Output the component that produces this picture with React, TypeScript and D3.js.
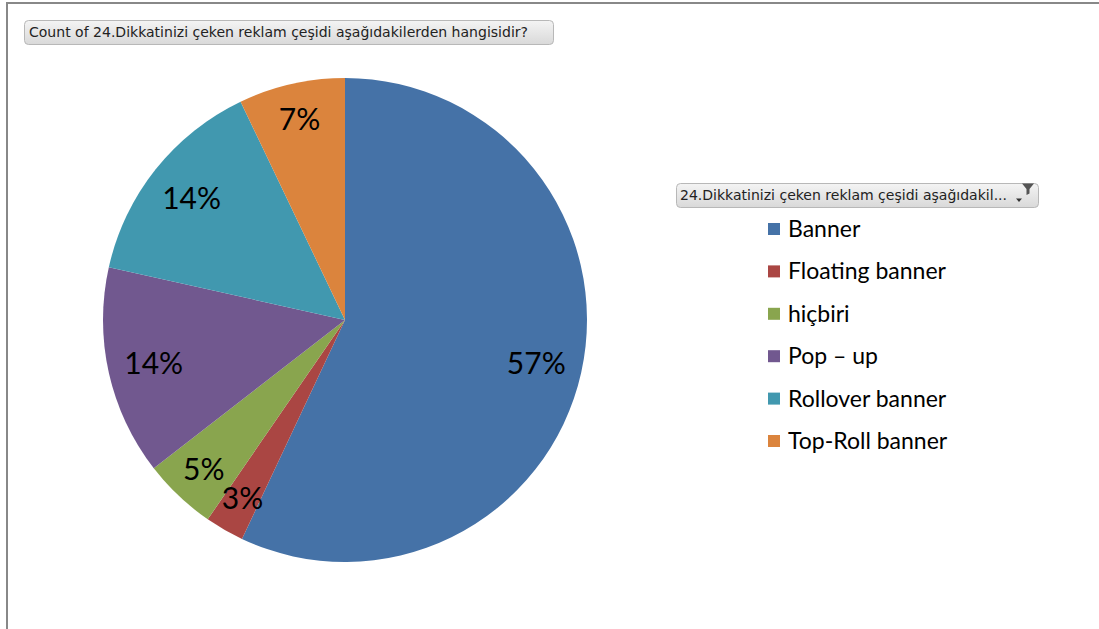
import React from "react";
import * as d3 from "d3";

const categories = ["Banner", "Floating banner", "hiçbiri", "Pop – up", "Rollover banner", "Top-Roll banner"];
const shares = [57.0, 2.6, 4.9, 14.0, 14.4, 7.1];
const colors = ["#4572A7", "#AA4643", "#89A54E", "#71588F", "#4198AF", "#DB843D"];
const titleText = "Count of 24.Dikkatinizi çeken reklam çeşidi aşağıdakilerden hangisidir?";
const legendTitle = "24.Dikkatinizi çeken reklam çeşidi aşağıdakil...";

export default function App() {
  const W = 1099, H = 629;
  const cx = 345, cy = 320, R = 242;
  const total = d3.sum(shares);
  const pie = d3.pie<number>().sort(null).value((d) => d);
  const arcs = pie(shares);
  const arc = d3.arc<d3.PieArcDatum<number>>().innerRadius(0).outerRadius(R);
  const fmt = (v: number) => Math.round((v / total) * 100) + "%";
  const legendY = d3.scalePoint<string>().domain(categories).range([229, 441]);
  const font = "Lato, 'Open Sans', sans-serif";
  const btnFont = "'DejaVu Sans Condensed', 'Liberation Sans', sans-serif";

  return (
    <svg width={W} height={H} style={{ position: "absolute", left: 0, top: 0, background: "#fff" }}>
      <defs>
        <linearGradient id="btn" x1="0" y1="0" x2="0" y2="1">
          <stop offset="0" stopColor="#f4f4f4" />
          <stop offset="1" stopColor="#d9d9d9" />
        </linearGradient>
      </defs>
      <rect x={0} y={0} width={W} height={H} fill="#fff" />
      <line x1={6} y1={3} x2={W} y2={3} stroke="#888" strokeWidth={2} />
      <line x1={7} y1={3} x2={7} y2={H} stroke="#888" strokeWidth={2} />

      {/* title button */}
      <rect x={24.5} y={20.5} width={529} height={24} rx={4} fill="url(#btn)" stroke="#b8b8b8" />
      <text x={29} y={37} fontFamily={btnFont} fontSize={14} fill="#222" textLength={499} lengthAdjust="spacingAndGlyphs">
        {titleText}
      </text>

      <g transform={`translate(${cx},${cy})`}>
        {arcs.map((a, i) => (
          <path key={i} d={arc(a) || ""} fill={colors[i]} />
        ))}
        {arcs.map((a, i) => {
          const k = a.data < 10 ? 0.85 : 0.81;
          const la = d3.arc<d3.PieArcDatum<number>>().innerRadius(R * k).outerRadius(R * k);
          const [x, y] = la.centroid(a);
          return (
            <text key={"l" + i} x={x} y={y} dy="0.36em" textAnchor="middle" fontFamily={font} fontSize={30} fill="#000">
              {fmt(a.data)}
            </text>
          );
        })}
      </g>

      {/* legend button */}
      <rect x={676.5} y={183.5} width={362} height={24} rx={4} fill="url(#btn)" stroke="#b8b8b8" />
      <text x={680} y={200} fontFamily={btnFont} fontSize={14} fill="#222" textLength={327} lengthAdjust="spacingAndGlyphs">
        {legendTitle}
      </text>
      <path d="M1016,198.5 l6,0 l-3,3.5 z" fill="#333" />
      <path d="M1022,183.5 l12,0 l-4.5,5.5 l0,4.5 l-3,1.5 l0,-6 z" fill="#555" />

      {categories.map((c, i) => (
        <g key={c} transform={`translate(768,${legendY(c)})`}>
          <rect x={0} y={-6} width={12} height={12} fill={colors[i]} />
          <text x={20} y={0} dy="0.35em" fontFamily={font} fontSize={23} fill="#000" textLength={undefined}>
            {c}
          </text>
        </g>
      ))}
    </svg>
  );
}
